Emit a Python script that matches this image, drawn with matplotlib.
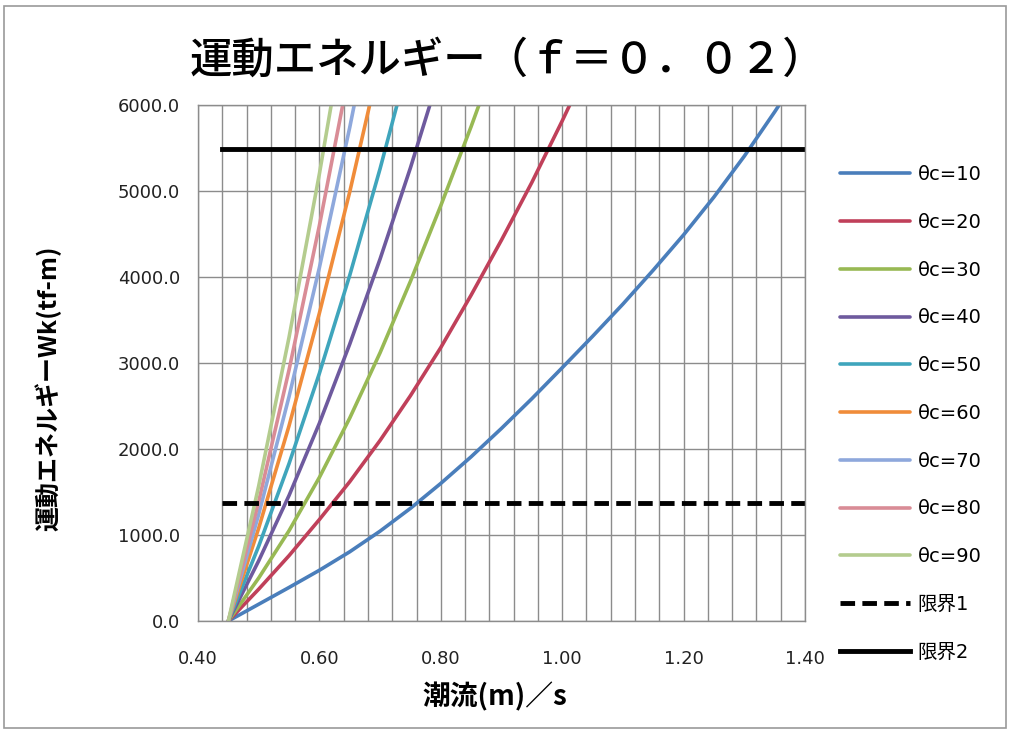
import matplotlib
matplotlib.use("Agg")
import matplotlib.pyplot as plt
from matplotlib.patches import Rectangle
from matplotlib.ticker import MultipleLocator

# Tidal current speed (m/s) at which each energy value is evaluated
speed = [0.45, 0.50, 0.55, 0.60, 0.65, 0.70, 0.75, 0.80, 0.85, 0.90,
         0.95, 1.00, 1.05, 1.10, 1.15, 1.20, 1.25, 1.30, 1.35, 1.40]

# Kinetic energy Wk (tf-m) for each crossing angle θc
energy_10 = [0, 195, 390, 590, 805, 1045, 1310, 1600, 1910, 2240,
             2585, 2945, 3310, 3685, 4080, 4490, 4930, 5405, 5920, 6460]
energy_20 = [0, 370, 760, 1180, 1620, 2100, 2620, 3180, 3790, 4430, 5100, 5815, 6560]
energy_30 = [0, 500, 1050, 1670, 2360, 3120, 3950, 4830, 5750, 6720]
energy_40 = [0, 700, 1460, 2300, 3220, 4210, 5270, 6410]
energy_50 = [0, 870, 1830, 2880, 4020, 5260, 6590]
energy_60 = [0, 1080, 2270, 3580, 4990, 6530]
energy_70 = [0, 1240, 2610, 4110, 5740, 7500]
energy_80 = [0, 1390, 2920, 4600, 6420]
energy_90 = [0, 1570, 3300, 5200, 7260]

series_labels = ["θc=10", "θc=20", "θc=30", "θc=40", "θc=50",
                 "θc=60", "θc=70", "θc=80", "θc=90"]
series_colors = ["#4A7EBB", "#C0405A", "#98B954", "#6E5A9E", "#3FA5BC",
                 "#F08C3A", "#8EA8DC", "#D98C96", "#B4CC8E"]

# Limit energies
limit_labels = ["限界1", "限界2"]
limit_values = [1370, 5490]
limit_span = [0.44, 1.40]

W, H = 1011, 731
fig = plt.figure(figsize=(W / 100, H / 100), dpi=100)
fig.patch.set_facecolor("white")

# chart frame
fig.add_artist(Rectangle((4 / W, 1 - 728 / H), 1002 / W, 722 / H,
                         transform=fig.transFigure, fill=False,
                         edgecolor="#9A9A9A", lw=1.2))

left, right, top, bottom = 198, 805, 105, 621
ax = fig.add_axes([left / W, 1 - bottom / H, (right - left) / W, (bottom - top) / H])

ax.set_xlim(0.40, 1.40)
ax.set_ylim(0, 6000)
ax.xaxis.set_major_locator(MultipleLocator(0.2))
ax.xaxis.set_minor_locator(MultipleLocator(0.04))
ax.yaxis.set_major_locator(MultipleLocator(1000))
ax.grid(True, which="major", axis="y", color="#8C8C8C", lw=1.0)
ax.grid(True, which="both", axis="x", color="#8C8C8C", lw=1.0)
ax.set_axisbelow(True)
for s in ax.spines.values():
    s.set_color("#8C8C8C")
    s.set_linewidth(1.0)
ax.tick_params(which="both", length=0, labelsize=13, colors="#222222")
ax.tick_params(axis="y", pad=13)
ax.tick_params(axis="x", pad=21)
ax.xaxis.set_major_formatter(plt.FuncFormatter(lambda v, p: f"{v:.2f}"))
ax.yaxis.set_major_formatter(plt.FuncFormatter(lambda v, p: f"{v:.1f}"))

all_series = [energy_10, energy_20, energy_30, energy_40, energy_50,
              energy_60, energy_70, energy_80, energy_90]
handles = []
for vals, lab, col in zip(all_series, series_labels, series_colors):
    h, = ax.plot(speed[:len(vals)], vals, color=col, lw=2.6, label=lab,
                 solid_capstyle="round", solid_joinstyle="round")
    handles.append(h)

h1, = ax.plot(limit_span, [limit_values[0]] * 2, color="black", lw=3.5,
              dashes=(3, 1.5), label=limit_labels[0])
h2, = ax.plot(limit_span, [limit_values[1]] * 2, color="black", lw=3.5,
              label=limit_labels[1])
handles += [h1, h2]

jp = ["Noto Sans CJK JP", "DejaVu Sans"]
fig.text(507 / W, 1 - 60 / H, "運動エネルギー（ｆ＝０．０２）", ha="center", va="center",
         fontsize=30.5, fontweight="medium", family=jp)
fig.text(48 / W, 1 - 388 / H, "運動エネルギーWk(tf-m)", rotation=90, ha="center",
         va="center", fontsize=18, fontweight="bold", family=jp)
fig.text(495 / W, 1 - 697 / H, "潮流(m)／s", ha="center", va="center",
         fontsize=20, fontweight="bold", family=jp)

leg = fig.legend(handles=handles, loc="upper left",
                 bbox_to_anchor=(840 / W, 1 - 165 / H), frameon=False,
                 prop={"family": ["DejaVu Sans", "Noto Sans CJK JP"], "size": 14},
                 handlelength=3.6, handletextpad=0.4, labelspacing=1.48,
                 borderpad=0, borderaxespad=0)

fig.savefig("out.png", dpi=100)
